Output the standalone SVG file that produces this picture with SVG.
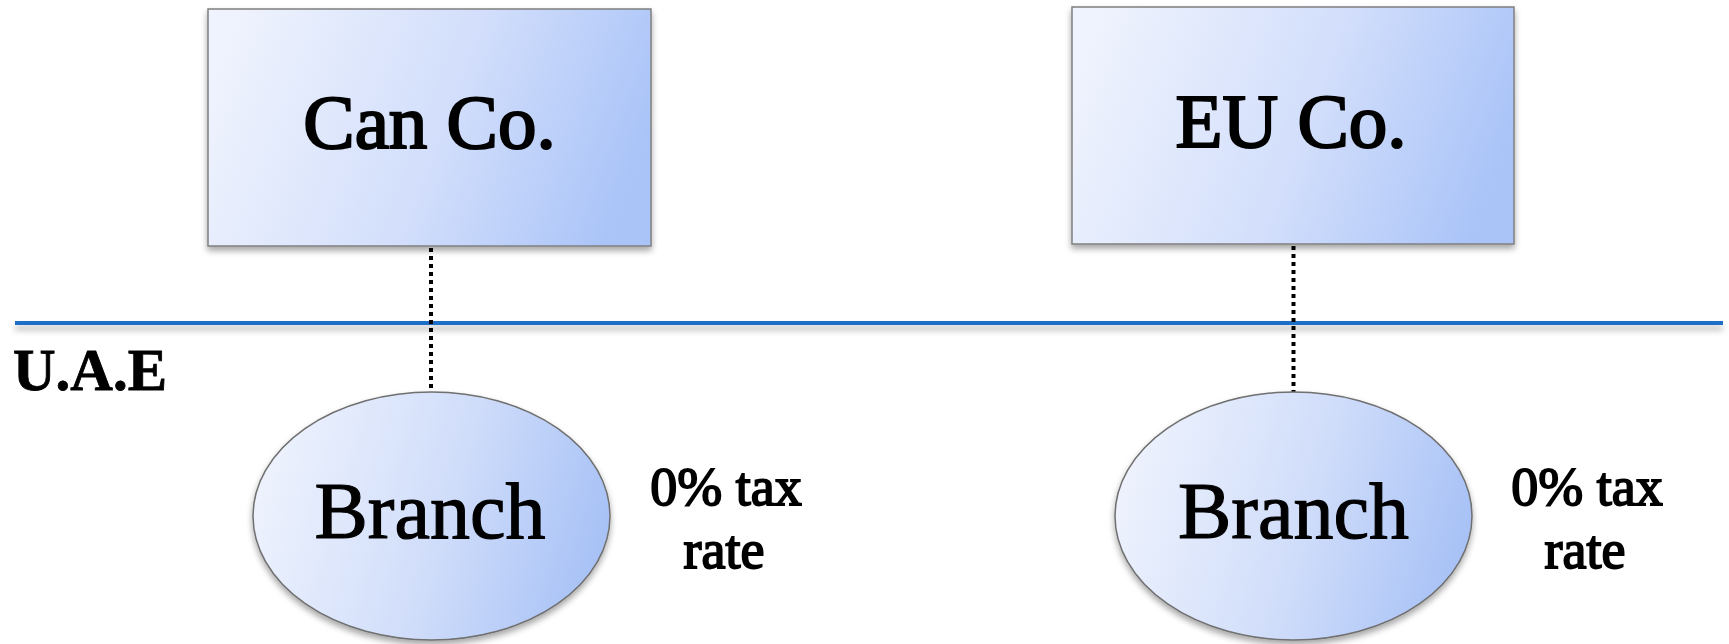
<svg xmlns="http://www.w3.org/2000/svg" width="1729" height="644" viewBox="0 0 1729 644">
  <defs>
    <linearGradient id="boxGrad" x1="0" y1="0.3" x2="1" y2="0.5">
      <stop offset="0" stop-color="#eff3fd"/>
      <stop offset="0.55" stop-color="#d2defb"/>
      <stop offset="1" stop-color="#aac4f8"/>
    </linearGradient>
    <linearGradient id="ellGrad" x1="0" y1="0.3" x2="1" y2="0.5">
      <stop offset="0" stop-color="#eff3fd"/>
      <stop offset="0.55" stop-color="#d0ddfa"/>
      <stop offset="1" stop-color="#a8c2f6"/>
    </linearGradient>
    <filter id="shadow" x="-10%" y="-10%" width="120%" height="130%">
      <feDropShadow dx="0" dy="4" stdDeviation="3" flood-color="#000" flood-opacity="0.35"/>
    </filter>
    <filter id="lineShadow" filterUnits="userSpaceOnUse" x="0" y="300" width="1729" height="50">
      <feDropShadow dx="0" dy="5" stdDeviation="3" flood-color="#000" flood-opacity="0.3"/>
    </filter>
  </defs>
  <style>
    .box { fill: url(#boxGrad); stroke: #7f7f7f; stroke-width: 1.5; filter: url(#shadow); }
    .ell { fill: url(#ellGrad); stroke: #6f6f6f; stroke-width: 1.5; filter: url(#shadow); }
    .title { font-family: "Liberation Serif", serif; font-size: 77px; fill: #000; stroke: #000; stroke-width: 2.2; text-anchor: middle; }
    .branch { font-family: "Liberation Serif", serif; font-size: 80px; fill: #000; stroke: #000; stroke-width: 1.2; text-anchor: middle; }
    .note { font-family: "Liberation Serif", serif; font-size: 54px; fill: #000; stroke: #000; stroke-width: 1.8; text-anchor: middle; }
    .region { font-family: "Liberation Serif", serif; font-size: 59px; font-weight: bold; fill: #000; stroke: #000; stroke-width: 0.8; }
    .conn { stroke: #000; stroke-width: 4; stroke-dasharray: 4 4; fill: none; }
    .border { fill: #1b6ec6; filter: url(#lineShadow); }
  </style>

  <g id="border-line">
    <rect class="border" x="15" y="321" width="1708" height="4"/>
  </g>

  <g id="connectors">
    <line class="conn" x1="431" y1="248" x2="431" y2="392"/>
    <line class="conn" x1="1293.5" y1="246" x2="1293.5" y2="392"/>
  </g>

  <g id="can-co">
    <rect class="box" x="208" y="9" width="443" height="237"/>
    <text class="title" x="429.5" y="148">Can Co.</text>
  </g>

  <g id="eu-co">
    <rect class="box" x="1072" y="7" width="442" height="237"/>
    <text class="title" x="1291" y="147">EU Co.</text>
  </g>

  <g id="uae-label">
    <text class="region" x="13" y="390">U.A.E</text>
  </g>

  <g id="branch-can">
    <ellipse class="ell" cx="431.5" cy="516" rx="178.5" ry="124"/>
    <text class="branch" x="430" y="538">Branch</text>
  </g>

  <g id="tax-can">
    <text class="note" x="726" y="505">0% tax</text>
    <text class="note" x="724" y="568">rate</text>
  </g>

  <g id="branch-eu">
    <ellipse class="ell" cx="1293.5" cy="516" rx="178.5" ry="124"/>
    <text class="branch" x="1293.5" y="538">Branch</text>
  </g>

  <g id="tax-eu">
    <text class="note" x="1587" y="505">0% tax</text>
    <text class="note" x="1585" y="568">rate</text>
  </g>
</svg>
